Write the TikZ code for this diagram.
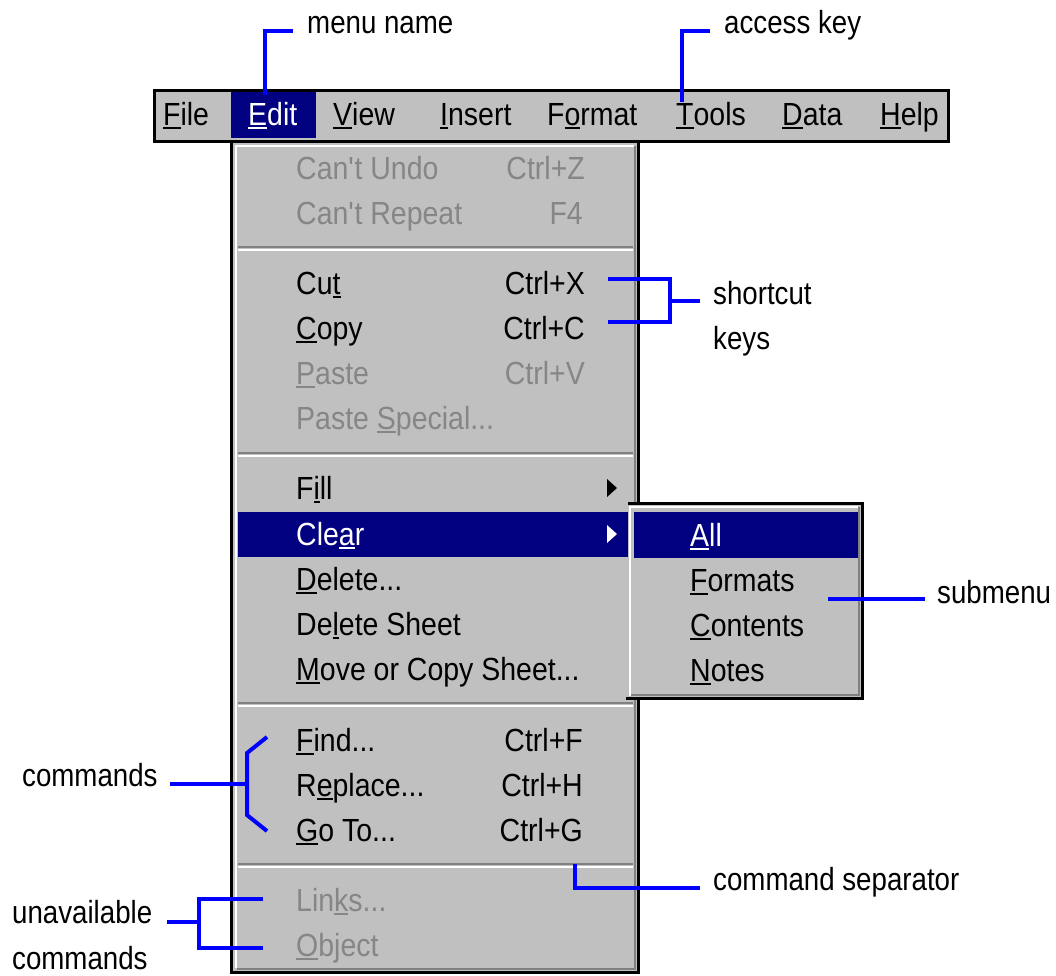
\documentclass[tikz,border=0pt]{standalone}
\usepackage{fontspec}
\setmainfont{Liberation Sans}[FakeStretch=0.89]
\newfontfamily\notefont{Liberation Sans}[FakeStretch=0.865]
\definecolor{menugray}{HTML}{C0C0C0}
\definecolor{navy}{HTML}{000080}
\definecolor{shadowgray}{HTML}{808080}
\definecolor{disabled}{HTML}{868686}
\definecolor{callblue}{HTML}{0000FF}
% underlined access-key letter
\newcommand\acc[1]{\leavevmode\setbox0\hbox{#1}\rlap{\rule[-4pt]{\wd0}{2pt}}\box0}
\newcommand\apos{\textquotesingle}
\begin{document}
\begin{tikzpicture}[x=1pt,y=-1pt,
  every node/.style={inner sep=0pt, font=\fontsize{32}{38}\selectfont},
  item/.style={anchor=base west},
  greyed/.style={anchor=base west, text=disabled},
  hotkey/.style={anchor=base east},
  greykey/.style={anchor=base east, text=disabled},
  note/.style={anchor=base west, font=\notefont\fontsize{32}{38}\selectfont},
  callout/.style={draw=callblue, line width=4pt},
  sepdark/.style={draw=shadowgray, line width=2pt},
  seplight/.style={draw=white, line width=2pt}]
\useasboundingbox (0,0) rectangle (1056,975);

% ---- drop-down menu body ----
\fill[menugray] (230,142) rectangle (640,974);
\draw[line width=3pt] (231.5,142) -- (231.5,972.5) -- (638.5,972.5) -- (638.5,142);
\draw[white, line width=2pt] (236,968) -- (236,146) -- (634,146);
\draw[shadowgray, line width=2pt] (635,146) -- (635,969) -- (237,969);

% ---- menu bar ----
\filldraw[fill=menugray, line width=3pt] (154.5,90.5) rectangle (948.5,141);
\fill[navy] (231,92) rectangle (316,138);

\node[item] (mFile) at (163,125) {\acc{F}ile};
\node[item, text=white] (mEdit) at (248,125) {\acc{E}dit};
\node[item] (mView) at (333,125) {\acc{V}iew};
\node[item] (mInsert) at (440,125) {\acc{I}nsert};
\node[item] (mFormat) at (547,125) {F\acc{o}rmat};
\node[item] (mTools) at (676,125) {\acc{T}ools};
\node[item] (mData) at (782,125) {\acc{D}ata};
\node[item] (mHelp) at (880,125) {\acc{H}elp};

% ---- separators ----
\foreach \y in {247,453,703,864} {
  \draw[sepdark] (238,\y) -- (633,\y);
  \draw[seplight] (238,\y+3) -- (633,\y+3);
}

% ---- highlighted row ----
\fill[navy] (238,512) rectangle (630,557);

% ---- menu items ----
\node[greyed] (iUndo) at (296,179) {Can\apos t Undo};
\node[greykey] (kUndo) at (585,179) {Ctrl+Z};
\node[greyed] (iRepeat) at (296,224) {Can\apos t Repeat};
\node[greykey] (kRepeat) at (583,224) {F4};

\node[item] (iCut) at (296,294) {Cu\acc{t}};
\node[hotkey] (kCut) at (585,294) {Ctrl+X};
\node[item] (iCopy) at (296,339) {\acc{C}opy};
\node[hotkey] (kCopy) at (585,339) {Ctrl+C};
\node[greyed] (iPaste) at (296,384) {\acc{P}aste};
\node[greykey] (kPaste) at (585,384) {Ctrl+V};
\node[greyed] (iPasteSp) at (296,429) {Paste \acc{S}pecial...};

\node[item] (iFill) at (296,499) {F\acc{i}ll};
\node[item, text=white] (iClear) at (296,545) {Cle\acc{a}r};
\node[item] (iDelete) at (296,590) {\acc{D}elete...};
\node[item] (iDelSheet) at (296,635) {De\acc{l}ete Sheet};
\node[item] (iMove) at (296,680) {\acc{M}ove or Copy Sheet...};

\node[item] (iFind) at (296,751) {\acc{F}ind...};
\node[hotkey] (kFind) at (583,751) {Ctrl+F};
\node[item] (iReplace) at (296,796) {R\acc{e}place...};
\node[hotkey] (kReplace) at (583,796) {Ctrl+H};
\node[item] (iGoTo) at (296,841) {\acc{G}o To...};
\node[hotkey] (kGoTo) at (583,841) {Ctrl+G};

\node[greyed] (iLinks) at (296,911) {Lin\acc{k}s...};
\node[greyed] (iObject) at (296,956) {\acc{O}bject};

% submenu arrows
\fill (607,479) -- (617,488) -- (607,497) -- cycle;
\fill[white] (607,525) -- (617,534) -- (607,543) -- cycle;

% ---- submenu ----
\fill[menugray] (628,502) rectangle (864,700);
\draw[line width=3pt] (628,503.5) -- (862.5,503.5) -- (862.5,698.5) -- (626,698.5);
\draw[white, line width=2pt] (630,696) -- (630,507) -- (858,507);
\draw[shadowgray, line width=2pt] (859,507) -- (859,695) -- (631,695);
\fill[navy] (634,512) rectangle (858,558);

\node[item, text=white] (sAll) at (690,546) {\acc{A}ll};
\node[item] (sFormats) at (690,591) {\acc{F}ormats};
\node[item] (sContents) at (690,636) {\acc{C}ontents};
\node[item] (sNotes) at (690,681) {\acc{N}otes};

% ---- annotations ----
\node[note] (nMenuName) at (307,33) {menu name};
\node[note] (nAccess) at (724,33) {access key};
\node[note] (nShortcut) at (713,304) {shortcut};
\node[note] (nKeys) at (713,349) {keys};
\node[note] (nSubmenu) at (937,603) {submenu};
\node[note] (nSeparator) at (713,890) {command separator};
\node[note] (nCommands) at (22,786) {commands};
\node[note] (nUnavail) at (12,923) {unavailable};
\node[note] (nUnavail2) at (12,969) {commands};

% callout anchor points
\coordinate (cEdit) at (265,95);
\coordinate (cMenuName) at (293,31);
\coordinate (cTools) at (682,102);
\coordinate (cAccess) at (710,31);
\coordinate (cCut) at (608,279);
\coordinate (cCopy) at (608,322);
\coordinate (cShortcut) at (700,301);
\coordinate (cSubA) at (828,599);
\coordinate (cSubB) at (925,599);
\coordinate (cSep) at (575,864);
\coordinate (cSepEnd) at (700,888);
\coordinate (cCmd) at (170,784);
\coordinate (cUnav) at (167,922);

% callout lines
\draw[callout] (cEdit) |- (cMenuName);
\draw[callout] (cTools) |- (cAccess);
\draw[callout] (cCut) -- (670,279) -- (670,322) -- (cCopy);
\draw[callout] (670,301) -- (cShortcut);
\draw[callout] (cSubA) -- (cSubB);
\draw[callout] (cSep) |- (cSepEnd);
\draw[callout] (cCmd) -- (247,784);
\draw[callout, line join=miter] (267,737) -- (247,753) -- (247,815) -- (267,831);
\draw[callout] (cUnav) -- (199,922);
\draw[callout] (263,899) -- (199,899) -- (199,948) -- (263,948);
\end{tikzpicture}
\end{document}
